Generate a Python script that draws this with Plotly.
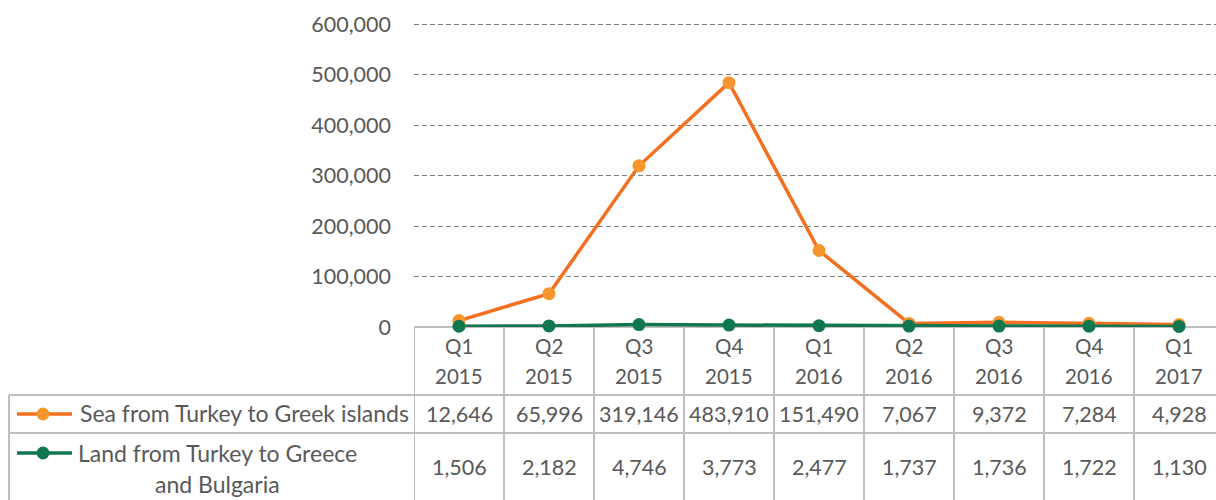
import plotly.graph_objects as go

quarters = ["Q1", "Q2", "Q3", "Q4", "Q1", "Q2", "Q3", "Q4", "Q1"]
years = ["2015", "2015", "2015", "2015", "2016", "2016", "2016", "2016", "2017"]
sea_name = "Sea from Turkey to Greek islands"
land_name_lines = ["Land from Turkey to Greece", "and Bulgaria"]
sea_values = [12646, 65996, 319146, 483910, 151490, 7067, 9372, 7284, 4928]
land_values = [1506, 2182, 4746, 3773, 2477, 1737, 1736, 1722, 1130]
y_ticks = [0, 100000, 200000, 300000, 400000, 500000, 600000]

W, H = 1216, 500
FONT = "Lato"
TXT = "#595959"
GRID_TBL = "#BFBFBF"
ORANGE_LINE = "#F37021"
ORANGE_MARK = "#F7962D"
GREEN = "#10774F"

# layout geometry (pixels)
plot_left = 414
col_w = 90
y_zero_px = 327
px_per_100k = 303 / 6
y_max = 606000
row1_top = 395
row2_top = 433
table_left = 9


def px(xp):
    return xp / W


def py(yp):
    return 1 - yp / H


n = len(quarters)
x_idx = list(range(n))

fig = go.Figure()
fig.add_trace(go.Scatter(
    x=x_idx, y=sea_values, mode="lines+markers", name=sea_name,
    line=dict(color=ORANGE_LINE, width=3.5),
    marker=dict(color=ORANGE_MARK, size=13), cliponaxis=False,
    showlegend=False,
))
fig.add_trace(go.Scatter(
    x=x_idx, y=land_values, mode="lines+markers", name=" ".join(land_name_lines),
    line=dict(color=GREEN, width=3.5),
    marker=dict(color=GREEN, size=13), cliponaxis=False,
    showlegend=False,
))

shapes = []
annotations = []

# table horizontal lines
shapes.append(dict(type="line", xref="paper", yref="paper",
                   x0=px(plot_left), x1=1, y0=py(y_zero_px), y1=py(y_zero_px),
                   line=dict(color=GRID_TBL, width=2), layer="below"))
for yy in (row1_top, row2_top):
    shapes.append(dict(type="line", xref="paper", yref="paper",
                       x0=px(table_left), x1=1, y0=py(yy), y1=py(yy),
                       line=dict(color=GRID_TBL, width=2), layer="below"))
# left table border
shapes.append(dict(type="line", xref="paper", yref="paper",
                   x0=px(table_left), x1=px(table_left), y0=py(row1_top), y1=0,
                   line=dict(color=GRID_TBL, width=2), layer="below"))
# column borders
for i in range(n + 1):
    shapes.append(dict(type="line", xref="x", yref="paper",
                       x0=i - 0.5, x1=i - 0.5, y0=py(y_zero_px), y1=0,
                       line=dict(color=GRID_TBL, width=2), layer="below"))

fs_text = 23
fs_num = 21.5
fs_head = 20.5


def txt(x, y, s, size, xref="x", xanchor="center"):
    return dict(x=x, y=y, xref=xref, yref="paper", text=s, showarrow=False,
                xanchor=xanchor, yanchor="middle",
                font=dict(family=FONT, size=size, color=TXT))


for i in range(n):
    annotations.append(txt(i, py(346), quarters[i], fs_head))
    annotations.append(txt(i, py(376), years[i], fs_head))
    annotations.append(txt(i, py(414), f"{sea_values[i]:,}", fs_num))
    annotations.append(txt(i, py(467), f"{land_values[i]:,}", fs_num))

# legend keys in the table
for (yy, lc, mc) in ((414, ORANGE_LINE, ORANGE_MARK), (453, GREEN, GREEN)):
    shapes.append(dict(type="line", xref="paper", yref="paper",
                       x0=px(17), x1=px(72), y0=py(yy), y1=py(yy),
                       line=dict(color=lc, width=3.5)))
    shapes.append(dict(type="circle", xref="paper", yref="paper",
                       x0=px(36.5), x1=px(49.5), y0=py(yy + 6.5), y1=py(yy - 6.5),
                       fillcolor=mc, line=dict(color=mc, width=0)))

annotations.append(txt(px(78), py(413), sea_name, fs_text, xref="paper", xanchor="left"))
annotations.append(txt(px(217), py(453), land_name_lines[0], fs_text, xref="paper"))
annotations.append(txt(px(217), py(484), land_name_lines[1], fs_text, xref="paper"))

y_top_px = y_zero_px - px_per_100k * y_max / 100000

fig.update_layout(
    width=W, height=H, autosize=False,
    margin=dict(l=0, r=0, t=0, b=0, pad=0),
    paper_bgcolor="white", plot_bgcolor="white",
    shapes=shapes, annotations=annotations,
    xaxis=dict(domain=[px(plot_left), 1], range=[-0.5, -0.5 + (W - plot_left) / col_w],
               showticklabels=False, showgrid=False, zeroline=False, showline=False,
               ticks="", automargin=False),
    yaxis=dict(domain=[py(y_zero_px), py(y_top_px)], range=[0, y_max],
               tickvals=y_ticks, tickformat=",", showgrid=True,
               gridcolor="#7F7F7F", gridwidth=1.2, griddash="5px,3px",
               zeroline=False, showline=False, ticks="", automargin=False,
               ticklabelstandoff=22,
               tickfont=dict(family=FONT, size=fs_num, color=TXT)),
)

fig.write_html(
    "out.html",
    config={"responsive": False, "displayModeBar": False},
    post_script="document.body.style.margin='0';document.body.style.overflow='hidden';",
)
